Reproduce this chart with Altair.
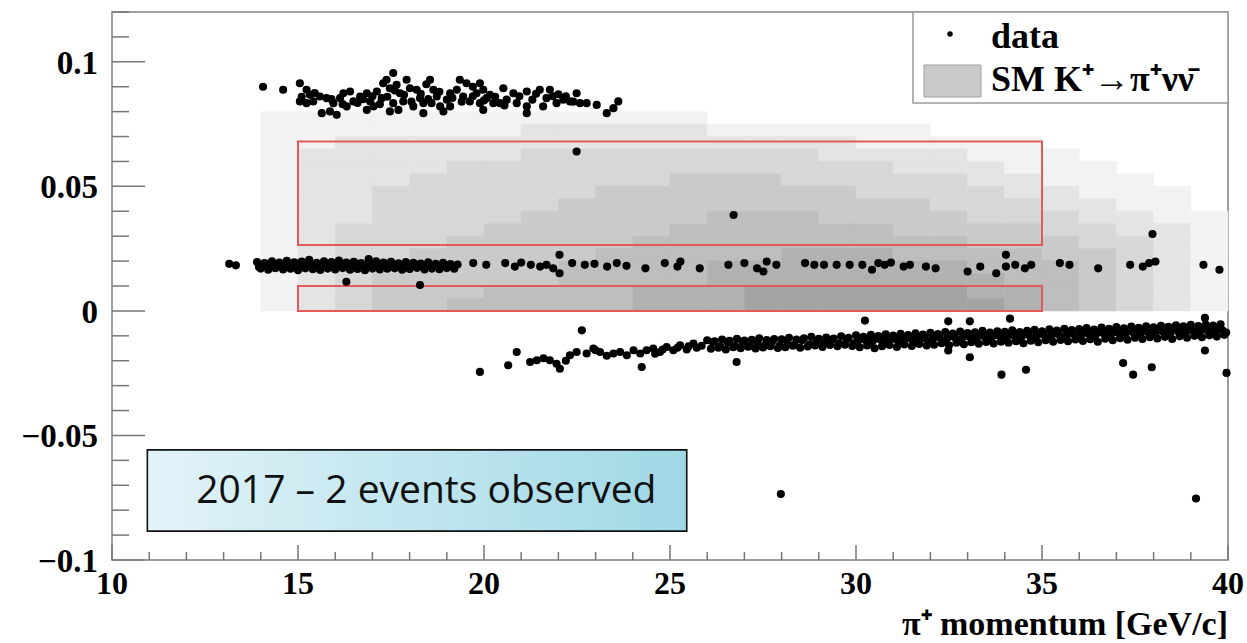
import altair as alt
import pandas as pd

# ---------------- data ----------------
# upper cluster of data events
UP_X = [14.06,14.60,15.05,15.23,15.32,15.05,15.23,15.41,15.59,15.77,15.64,15.86,16.04,15.95,16.13,16.22,16.40,16.31,16.49,16.67,
        16.85,16.94,17.12,17.03,17.25,17.29,17.38,17.47,17.56,17.65,17.74,17.56,17.83,17.47,17.70,17.92,18.01,18.19,18.28,18.10,
        18.37,18.55,18.64,18.73,18.59,18.82,18.91,19.00,19.09,19.27,19.44,19.53,19.62,19.80,19.89,19.98,20.07,20.16,20.25,20.43,
        20.61,20.79,20.88,21.15,21.15,21.15,21.59,21.68,21.77,21.95,22.13,22.31,22.49,22.58,22.76,23.03,23.30,23.48,23.61,19.35,
        19.89,20.52,19.09,16.85,18.37,19.98,21.50,
        15.10,15.45,15.90,16.20,16.60,16.75,17.00,17.20,17.40,17.60,17.85,18.05,18.30,18.45,18.50,18.80,19.15,19.40,19.70,19.70,
        20.00,20.30,20.55,20.95,21.30,21.40,21.85,22.20,22.40,22.00]
UP_Y = [0.0900,0.0888,0.0914,0.0888,0.0868,0.0841,0.0834,0.0841,0.0861,0.0854,0.0794,0.0801,0.0787,0.0834,0.0854,0.0874,0.0881,0.0821,0.0841,0.0861,
        0.0874,0.0841,0.0881,0.0821,0.0854,0.0914,0.0928,0.0894,0.0955,0.0908,0.0874,0.0834,0.0841,0.0801,0.0807,0.0928,0.0894,0.0888,0.0854,0.0821,
        0.0834,0.0928,0.0888,0.0861,0.0834,0.0821,0.0801,0.0848,0.0874,0.0888,0.0861,0.0914,0.0841,0.0874,0.0834,0.0888,0.0854,0.0868,0.0834,0.0834,
        0.0848,0.0874,0.0834,0.0881,0.0821,0.0794,0.0821,0.0854,0.0888,0.0834,0.0848,0.0841,0.0874,0.0834,0.0834,0.0827,0.0794,0.0814,0.0841,0.0928,
        0.0914,0.0894,0.0821,0.0807,0.0794,0.0807,0.0888,
        0.0860,0.0875,0.0850,0.0830,0.0835,0.0850,0.0862,0.0830,0.0860,0.0885,0.0868,0.0840,0.0872,0.0910,0.0850,0.0880,0.0855,0.0840,0.0862,0.0900,
        0.0845,0.0860,0.0825,0.0862,0.0848,0.0872,0.0862,0.0862,0.0840,0.0870]

# middle band, dense part
MID_X_A = [13.9,14.1,14.3,14.5,14.7,14.9,15.1,15.3,15.5,15.7,15.9,16.1,16.3,16.5,16.7,16.9,17.1,17.3,17.5,17.7,17.9,18.1,18.3,18.5,18.7,18.9,19.1]
MID_Y_A = [0.0196,0.0192,0.0199,0.0194,0.0201,0.0195,0.0198,0.0205,0.0193,0.0199,0.0196,0.0202,0.0194,0.0197,0.0192,0.0208,0.0199,0.0194,0.0197,0.0191,0.0196,0.0193,0.0190,0.0195,0.0189,0.0193,0.0188]
MID_X_B = [14.0,14.2,14.4,14.6,14.8,15.0,15.2,15.4,15.6,15.8,16.0,16.2,16.4,16.6,16.8,17.0,17.2,17.4,17.6,17.8,18.0,18.2,18.4,18.6,18.8,19.0,19.2]
MID_Y_B = [0.0170,0.0165,0.0172,0.0166,0.0169,0.0163,0.0171,0.0167,0.0164,0.0170,0.0166,0.0172,0.0165,0.0168,0.0163,0.0170,0.0166,0.0169,0.0171,0.0165,0.0168,0.0173,0.0166,0.0170,0.0167,0.0172,0.0169]
MID_X_C = [14.05,14.25,14.45,14.65,14.85,15.05,15.25,15.45,15.65,15.85,16.05,16.25,16.45,16.65,16.85,17.05,17.25,17.45]
MID_Y_C = [0.0183,0.0180,0.0185,0.0179,0.0182,0.0186,0.0181,0.0184,0.0178,0.0183,0.0180,0.0185,0.0182,0.0179,0.0184,0.0181,0.0186,0.0180]
MID_X_D = [13.95,14.15,14.35,14.55,14.75,14.95,15.15,15.35,15.55,15.75,15.95,16.15,16.35,16.55,16.75,16.95,17.15,17.35,17.55,17.75,17.95,18.15,18.35,18.55,18.75,18.95,19.15]
MID_Y_D = [0.0176,0.0188,0.0174,0.0187,0.0177,0.0190,0.0175,0.0186,0.0173,0.0189,0.0176,0.0187,0.0174,0.0191,0.0177,0.0186,0.0175,0.0188,0.0178,0.0184,0.0176,0.0187,0.0179,0.0183,0.0177,0.0185,0.0180]

# middle band, sparse part
MS_X = [13.15,13.33,16.30,18.28,19.29,19.71,20.06,20.57,20.83,21.00,21.26,21.51,21.68,21.86,22.03,22.03,22.37,22.71,22.97,23.31,
        23.57,23.83,24.34,24.86,25.20,25.28,25.80,26.57,27.00,27.34,27.51,27.60,27.86,28.63,28.88,29.14,29.48,29.83,30.17,30.43,
        30.60,30.77,30.94,31.28,31.45,31.88,32.14,33.00,33.34,33.77,34.03,34.03,34.28,34.54,34.71,35.48,35.74,36.51,37.37,37.71,
        37.88,38.05,37.97,39.34,39.77]
MS_Y = [0.0189,0.0183,0.0117,0.0104,0.0186,0.0192,0.0185,0.0192,0.0178,0.0194,0.0185,0.0178,0.0185,0.0171,0.0225,0.0151,0.0192,0.0185,0.0189,0.0178,
        0.0192,0.0181,0.0171,0.0192,0.0178,0.0198,0.0171,0.0185,0.0192,0.0171,0.0158,0.0198,0.0185,0.0192,0.0185,0.0185,0.0185,0.0185,0.0185,0.0165,
        0.0192,0.0185,0.0194,0.0178,0.0185,0.0178,0.0171,0.0158,0.0178,0.0151,0.0225,0.0178,0.0185,0.0171,0.0185,0.0192,0.0185,0.0171,0.0185,0.0178,
        0.0192,0.0198,0.0309,0.0185,0.0165]

# lower band, sparse left part
LS_X = [19.89,20.65,20.88,21.24,21.42,21.60,21.77,21.95,22.04,22.20,22.31,22.49,22.63,22.76,22.94,23.00,23.12,23.30,23.48,23.66,
        23.84,24.02,24.20,24.24,24.37,24.55,24.60,24.73,24.80,24.91,25.09,25.20,25.27,25.45,25.50,25.63,25.72,25.85,26.79]
LS_Y = [-0.0245,-0.0218,-0.0165,-0.0205,-0.0198,-0.0190,-0.0198,-0.0212,-0.0232,-0.0200,-0.0178,-0.0165,-0.0078,-0.0171,-0.0151,-0.0158,-0.0165,-0.0180,-0.0171,-0.0165,
        -0.0178,-0.0158,-0.0171,-0.0225,-0.0158,-0.0151,-0.0172,-0.0165,-0.0155,-0.0145,-0.0158,-0.0148,-0.0138,-0.0155,-0.0142,-0.0131,-0.0148,-0.0140,-0.0205]

# lower band, dense part
LOW_X_A = [26.0,26.2,26.4,26.6,26.8,27.0,27.2,27.4,27.6,27.8,28.0,28.2,28.4,28.6,28.8,29.0,29.2,29.4,29.6,29.8,
           30.0,30.2,30.4,30.6,30.8,31.0,31.2,31.4,31.6,31.8,32.0,32.2,32.4,32.6,32.8,33.0,33.2,33.4,33.6,33.8,
           34.0,34.2,34.4,34.6,34.8,35.0,35.2,35.4,35.6,35.8,36.0,36.2,36.4,36.6,36.8,37.0,37.2,37.4,37.6,37.8,
           38.0,38.2,38.4,38.6,38.8,39.0,39.2,39.4,39.6,39.8]
LOW_Y_A = [-0.0118,-0.0122,-0.0115,-0.0120,-0.0112,-0.0119,-0.0116,-0.0110,-0.0117,-0.0113,
           -0.0114,-0.0108,-0.0115,-0.0110,-0.0104,-0.0112,-0.0107,-0.0111,-0.0102,-0.0108,
           -0.0098,-0.0104,-0.0096,-0.0101,-0.0094,-0.0099,-0.0092,-0.0097,-0.0090,-0.0095,
           -0.0088,-0.0093,-0.0085,-0.0091,-0.0083,-0.0089,-0.0086,-0.0080,-0.0087,-0.0082,
           -0.0084,-0.0078,-0.0085,-0.0080,-0.0076,-0.0082,-0.0074,-0.0079,-0.0072,-0.0077,
           -0.0073,-0.0069,-0.0075,-0.0067,-0.0072,-0.0065,-0.0070,-0.0063,-0.0068,-0.0062,
           -0.0066,-0.0060,-0.0064,-0.0058,-0.0062,-0.0056,-0.0061,-0.0055,-0.0059,-0.0054]
LOW_X_B = [26.1,26.3,26.5,26.7,26.9,27.1,27.3,27.5,27.7,27.9,28.1,28.3,28.5,28.7,28.9,29.1,29.3,29.5,29.7,29.9,
           30.1,30.3,30.5,30.7,30.9,31.1,31.3,31.5,31.7,31.9,32.1,32.3,32.5,32.7,32.9,33.1,33.3,33.5,33.7,33.9,
           34.1,34.3,34.5,34.7,34.9,35.1,35.3,35.5,35.7,35.9,36.1,36.3,36.5,36.7,36.9,37.1,37.3,37.5,37.7,37.9,
           38.1,38.3,38.5,38.7,38.9,39.1,39.3,39.5,39.7,39.9]
LOW_Y_B = [-0.0152,-0.0148,-0.0155,-0.0146,-0.0150,-0.0144,-0.0151,-0.0147,-0.0142,-0.0149,
           -0.0146,-0.0140,-0.0148,-0.0143,-0.0139,-0.0145,-0.0137,-0.0142,-0.0136,-0.0141,
           -0.0146,-0.0139,-0.0150,-0.0142,-0.0137,-0.0145,-0.0135,-0.0141,-0.0133,-0.0139,
           -0.0136,-0.0130,-0.0138,-0.0128,-0.0134,-0.0126,-0.0132,-0.0125,-0.0131,-0.0124,
           -0.0128,-0.0122,-0.0130,-0.0120,-0.0126,-0.0118,-0.0124,-0.0117,-0.0122,-0.0115,
           -0.0121,-0.0114,-0.0124,-0.0112,-0.0118,-0.0110,-0.0116,-0.0108,-0.0113,-0.0106,
           -0.0111,-0.0104,-0.0113,-0.0102,-0.0108,-0.0100,-0.0106,-0.0098,-0.0103,-0.0096]
LOW_X_C = [30.05,30.25,30.45,30.65,30.85,31.05,31.25,31.45,31.65,31.85,32.05,32.25,32.45,32.65,32.85,33.05,33.25,33.45,33.65,33.85,
           34.05,34.25,34.45,34.65,34.85,35.05,35.25,35.45,35.65,35.85,36.05,36.25,36.45,36.65,36.85,37.05,37.25,37.45,37.65,37.85,
           38.05,38.25,38.45,38.65,38.85,39.05,39.25,39.45,39.65,39.85]
LOW_Y_C = [-0.0120,-0.0117,-0.0121,-0.0115,-0.0118,-0.0113,-0.0116,-0.0111,-0.0114,-0.0110,
           -0.0112,-0.0108,-0.0110,-0.0106,-0.0109,-0.0104,-0.0107,-0.0103,-0.0105,-0.0101,
           -0.0104,-0.0100,-0.0102,-0.0098,-0.0101,-0.0097,-0.0099,-0.0095,-0.0098,-0.0094,
           -0.0096,-0.0092,-0.0095,-0.0090,-0.0093,-0.0089,-0.0091,-0.0087,-0.0090,-0.0086,
           -0.0088,-0.0084,-0.0087,-0.0082,-0.0085,-0.0081,-0.0083,-0.0079,-0.0082,-0.0078]
LOW_X_D = [26.15,26.35,26.55,26.75,26.95,27.15,27.35,27.55,27.75,27.95,28.15,28.35,28.55,28.75,28.95,29.15,29.35,29.55,29.75,29.95,
           30.15,30.35,30.55,30.75,30.95,31.15,31.35,31.55,31.75,31.95,32.15,32.35,32.55,32.75,32.95,33.15,33.35,33.55,33.75,33.95,
           34.15,34.35,34.55,34.75,34.95,35.15,35.35,35.55,35.75,35.95,36.15,36.35,36.55,36.75,36.95,37.15,37.35,37.55,37.75,37.95,
           38.15,38.35,38.55,38.75,38.95,39.15,39.35,39.55,39.75,39.95]
LOW_Y_D = [-0.0125,-0.0143,-0.0127,-0.0140,-0.0124,-0.0141,-0.0126,-0.0138,-0.0122,-0.0139,
           -0.0120,-0.0136,-0.0118,-0.0134,-0.0121,-0.0132,-0.0116,-0.0131,-0.0115,-0.0130,
           -0.0112,-0.0130,-0.0110,-0.0128,-0.0108,-0.0127,-0.0106,-0.0125,-0.0105,-0.0123,
           -0.0103,-0.0121,-0.0101,-0.0120,-0.0099,-0.0118,-0.0097,-0.0116,-0.0096,-0.0115,
           -0.0094,-0.0113,-0.0093,-0.0111,-0.0091,-0.0109,-0.0089,-0.0107,-0.0088,-0.0106,
           -0.0086,-0.0105,-0.0084,-0.0103,-0.0082,-0.0100,-0.0080,-0.0098,-0.0079,-0.0097,
           -0.0077,-0.0095,-0.0075,-0.0093,-0.0074,-0.0091,-0.0072,-0.0089,-0.0070,-0.0087]

# outliers around the lower band, events in the signal region, far outliers
LO_X = [30.24,32.48,33.06,34.14,39.38,33.06,33.91,34.57,37.18,37.45,37.95,39.38,39.96,32.48]
LO_Y = [-0.0039,-0.0042,-0.0042,-0.0031,-0.0028,-0.0186,-0.0256,-0.0236,-0.0209,-0.0256,-0.0226,-0.0159,-0.0249,-0.0159]
SIG_X = [22.49,26.71]
SIG_Y = [0.0640,0.0385]
FAR_X = [27.98,39.14]
FAR_Y = [-0.0735,-0.0753]

# SM K+ -> pi+ nu nubar expectation (grey 2D histogram), 1 GeV/c x 0.005 bins
HEAT_X0 = [14,15,16,17,18,19,20,21,22,23,24,25,26,27,28,29,30,31,32,33,34,35,36,37,38,39]
HEAT_Y0 = [0.075,0.070,0.065,0.060,0.055,0.050,0.045,0.040,0.035,0.030,0.025,0.020,0.015,0.010,0.005,0.000]
HEAT_ROWS = [
    "11111111111100000000000000",
    "11111112222211111100000000",
    "11222222222222221111100000",
    "12222223333333322221110000",
    "12222333333333333222111000",
    "12223333333444333332211100",
    "12233333344444443333221110",
    "12233333444444444433322110",
    "12233334444455544443332211",
    "12333344444555555444433221",
    "12333444445555555554443321",
    "12334444455555666555544321",
    "12334444555566666665554321",
    "12344444555566666666554321",
    "12344455556667777776654321",
    "12344555556667777777654321",
]

# signal regions (red boxes)
BOX_X1 = [15, 15]
BOX_X2 = [35, 35]
BOX_Y1 = [0.0265, 0.0]
BOX_Y2 = [0.068, 0.010]

# axis ticks and labels
X_MAJOR = [10, 15, 20, 25, 30, 35, 40]
X_LABELS = ["10", "15", "20", "25", "30", "35", "40"]
X_MINOR = [11,12,13,14,16,17,18,19,21,22,23,24,26,27,28,29,31,32,33,34,36,37,38,39]
Y_MAJOR = [-0.1, -0.05, 0, 0.05, 0.1]
Y_LABELS = ["\u22120.1", "\u22120.05", "0", "0.05", "0.1"]
Y_MINOR = [-0.09,-0.08,-0.07,-0.06,-0.04,-0.03,-0.02,-0.01,0.01,0.02,0.03,0.04,0.06,0.07,0.08,0.09,0.11,0.12]
X_TITLE = "\u03c0\u207a momentum [GeV/c]"

NOTE_TEXT = "2017 \u2013 2 events observed"
NOTE_X = [10.95, 25.45]
NOTE_Y = [-0.0558, -0.0884]
NOTE_POS = [18.45, -0.0722]

# ---------------- build tables ----------------
pts = []
for xs_, ys_ in [(UP_X, UP_Y), (MID_X_A, MID_Y_A), (MID_X_B, MID_Y_B), (MID_X_C, MID_Y_C), (MID_X_D, MID_Y_D),
                 (MS_X, MS_Y), (LS_X, LS_Y), (LOW_X_A, LOW_Y_A), (LOW_X_B, LOW_Y_B),
                 (LOW_X_C, LOW_Y_C), (LOW_X_D, LOW_Y_D), (LO_X, LO_Y), (SIG_X, SIG_Y), (FAR_X, FAR_Y)]:
    pts += [{"x": a, "y": b} for a, b in zip(xs_, ys_)]
points = pd.DataFrame(pts)

cells = []
for y0, row in zip(HEAT_Y0, HEAT_ROWS):
    for x0, ch in zip(HEAT_X0, row):
        v = int(ch)
        if v > 0:
            cells.append({"x": x0, "x2": x0 + 1, "y": y0, "y2": y0 + 0.005, "v": v})
heat = pd.DataFrame(cells)

boxes = pd.DataFrame({"x": BOX_X1, "x2": BOX_X2, "y": BOX_Y1, "y2": BOX_Y2})
note_box = pd.DataFrame({"x": [NOTE_X[0]], "x2": [NOTE_X[1]], "y": [NOTE_Y[0]], "y2": [NOTE_Y[1]]})
note_txt = pd.DataFrame({"x": [NOTE_POS[0]], "y": [NOTE_POS[1]], "t": [NOTE_TEXT]})
xlab = pd.DataFrame({"v": X_MAJOR, "t": X_LABELS})
ylab = pd.DataFrame({"v": Y_MAJOR, "t": Y_LABELS})
one = pd.DataFrame({"a": [0]})

W, H = 1116, 548
xs = alt.Scale(domain=[10, 40], nice=False, zero=False)
ys = alt.Scale(domain=[-0.1, 0.12], nice=False, zero=False)
SERIF = "Liberation Serif"
TICK = "#777777"


def X(field):
    return alt.X(field, type="quantitative", scale=xs, axis=None)


def Y(field):
    return alt.Y(field, type="quantitative", scale=ys, axis=None)


gray = alt.Scale(domain=[0, 9], range=["#ffffff", "#8c8c8c"])
heat_layer = alt.Chart(heat).mark_rect(strokeWidth=0.6).encode(
    x=X("x"), x2="x2:Q", y=Y("y"), y2="y2:Q",
    color=alt.Color("v:Q", scale=gray, legend=None),
    stroke=alt.Stroke("v:Q", scale=gray, legend=None),
)

box_layer = alt.Chart(boxes).mark_rect(fillOpacity=0, stroke="#e35a5a", strokeWidth=2).encode(
    x=X("x"), x2="x2:Q", y=Y("y"), y2="y2:Q")

pt_layer = alt.Chart(points).mark_circle(size=66, color="black", opacity=1).encode(x=X("x"), y=Y("y"))

xmaj = alt.Chart(pd.DataFrame({"v": X_MAJOR})).mark_rule(color=TICK, strokeWidth=1.5).encode(
    x=X("v"), y=alt.value(H), y2=alt.value(H - 15))
xmin = alt.Chart(pd.DataFrame({"v": X_MINOR})).mark_rule(color=TICK, strokeWidth=1.5).encode(
    x=X("v"), y=alt.value(H), y2=alt.value(H - 8))
ymaj = alt.Chart(pd.DataFrame({"v": Y_MAJOR})).mark_rule(color=TICK, strokeWidth=1.5).encode(
    y=Y("v"), x=alt.value(0), x2=alt.value(33))
ymin = alt.Chart(pd.DataFrame({"v": Y_MINOR})).mark_rule(color=TICK, strokeWidth=1.5).encode(
    y=Y("v"), x=alt.value(0), x2=alt.value(17))

xlab_layer = alt.Chart(xlab).mark_text(font=SERIF, fontWeight="bold", fontSize=32, color="black",
                                       align="center", baseline="alphabetic").encode(
    x=X("v"), y=alt.value(H + 34), text="t:N")
ylab_layer = alt.Chart(ylab).mark_text(font=SERIF, fontWeight="bold", fontSize=33, color="black",
                                       align="right", baseline="alphabetic", dy=12).encode(
    y=Y("v"), x=alt.value(-14), text="t:N")
xtitle = alt.Chart(one).mark_text(font=SERIF, fontWeight="bold", fontSize=34, color="black",
                                  align="right", baseline="alphabetic").encode(
    x=alt.value(W), y=alt.value(H + 75), text=alt.value(X_TITLE))

grad = alt.Gradient(gradient="linear", x1=0, x2=1, y1=0, y2=0,
                    stops=[alt.GradientStop(color="#e2f3f8", offset=0),
                           alt.GradientStop(color="#9fd8e6", offset=1)])
note_rect = alt.Chart(note_box).mark_rect(fill=grad, stroke="#111111", strokeWidth=1.6).encode(
    x=X("x"), x2="x2:Q", y=Y("y"), y2="y2:Q")
note_text = alt.Chart(note_txt).mark_text(font="Open Sans", fontSize=39, color="#111111",
                                          align="center", baseline="middle").encode(
    x=X("x"), y=Y("y"), text="t:N")

leg_frame = alt.Chart(one).mark_rect(fill="white", stroke="#9a9a9a", strokeWidth=1.5).encode(
    x=alt.value(801), x2=alt.value(W), y=alt.value(0), y2=alt.value(91))
leg_dot = alt.Chart(one).mark_circle(size=30, color="black", opacity=1).encode(
    x=alt.value(838), y=alt.value(22))
leg_swatch = alt.Chart(one).mark_rect(fill="#c9c9c9", stroke="#a0a0a0", strokeWidth=1).encode(
    x=alt.value(812), x2=alt.value(869), y=alt.value(53), y2=alt.value(85))
leg_t1 = alt.Chart(one).mark_text(font=SERIF, fontWeight="bold", fontSize=36, color="black",
                                  align="left", baseline="alphabetic").encode(
    x=alt.value(879), y=alt.value(36), text=alt.value("data"))
leg_t2 = alt.Chart(one).mark_text(font=SERIF, fontWeight="bold", fontSize=36, color="black",
                                  align="left", baseline="alphabetic").encode(
    x=alt.value(879), y=alt.value(79), text=alt.value("SM K\u207a\u2192\u03c0\u207a\u03bd\u03bd\u0304"))

chart = alt.layer(
    heat_layer, box_layer, pt_layer, xmaj, xmin, ymaj, ymin, xlab_layer, ylab_layer, xtitle,
    note_rect, note_text, leg_frame, leg_dot, leg_swatch, leg_t1, leg_t2,
).properties(
    width=W, height=H,
    padding={"left": 112, "top": 12, "right": 19, "bottom": 83},
    autosize=alt.AutoSizeParams(type="none"),
    background="white",
).configure_view(stroke="#808080", strokeWidth=1.5)

chart.save("out.html", embed_options={"renderer": "svg", "actions": False})
